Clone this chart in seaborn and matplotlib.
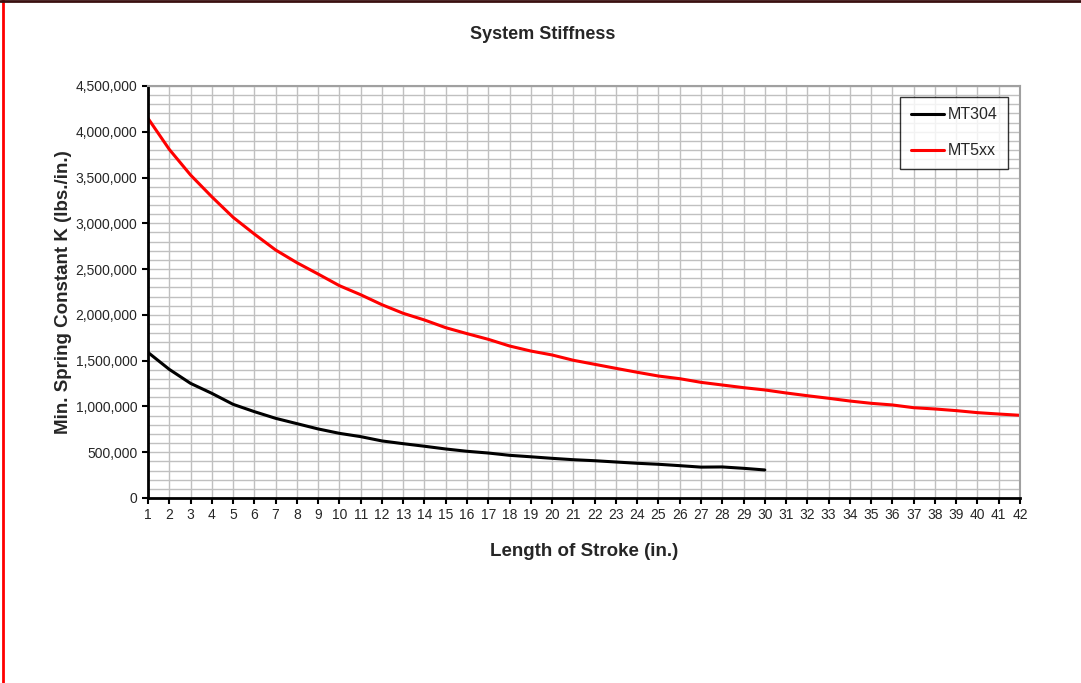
import numpy as np
import pandas as pd
import matplotlib.pyplot as plt
import seaborn as sns
from matplotlib.lines import Line2D
from matplotlib.ticker import FuncFormatter, MultipleLocator

# stroke length (in.)
stroke_mt304 = list(range(1, 31))
stroke_mt5xx = list(range(1, 43))

# min. spring constant K (lbs./in.)
k_mt304 = [1590000, 1405000, 1252000, 1143000, 1023000, 943000, 870000, 812000,
           754000, 706000, 670000, 623000, 593000, 565000, 535000, 510000,
           491000, 466000, 450000, 433000, 418000, 407000, 393000, 379000,
           368000, 353000, 337000, 339000, 324000, 306000]
k_mt5xx = [4147000, 3808000, 3528000, 3290000, 3066000, 2883000, 2709000, 2570000,
           2446000, 2319000, 2220000, 2111000, 2017000, 1944000, 1860000, 1795000,
           1733000, 1660000, 1605000, 1562000, 1504000, 1460000, 1416000, 1373000,
           1332000, 1303000, 1263000, 1234000, 1205000, 1180000, 1147000, 1117000,
           1089000, 1059000, 1034000, 1016000, 986000, 972000, 954000, 932000,
           917000, 903000]

df = pd.concat([
    pd.DataFrame({'stroke': stroke_mt304, 'k': k_mt304, 'model': 'MT304'}),
    pd.DataFrame({'stroke': stroke_mt5xx, 'k': k_mt5xx, 'model': 'MT5xx'}),
])

sns.set_style('white')
plt.rcParams['font.family'] = ['Liberation Sans', 'DejaVu Sans']

fig = plt.figure(figsize=(10.81, 6.83), dpi=100)
ax = fig.add_axes([0.1369, 0.2709, 0.8067, 0.6032])

sns.lineplot(data=df, x='stroke', y='k', hue='model',
             palette={'MT304': 'black', 'MT5xx': 'red'},
             linewidth=2.2, ax=ax)

ax.set_xlim(1, 42)
ax.set_ylim(0, 4500000)
ax.xaxis.set_major_locator(MultipleLocator(1))
ax.yaxis.set_major_locator(MultipleLocator(500000))
ax.yaxis.set_minor_locator(MultipleLocator(100000))
ax.yaxis.set_major_formatter(FuncFormatter(lambda v, p: f'{int(v):,}'))

ax.grid(True, which='major', axis='x', color='#c0c0c0', linewidth=1.0)
ax.grid(True, which='both', axis='y', color='#c0c0c0', linewidth=1.0)
ax.set_axisbelow(True)

ax.tick_params(axis='both', which='major', direction='out', length=4, width=1.5,
               labelsize=10, color='black', left=True, bottom=True)
ax.tick_params(axis='y', which='minor', left=False)
for s in ['left', 'bottom']:
    ax.spines[s].set_color('black')
    ax.spines[s].set_linewidth(2)
for s in ['top', 'right']:
    ax.spines[s].set_color('#a0a0a0')
    ax.spines[s].set_linewidth(1.5)

ax.set_xlabel('Length of Stroke (in.)', fontsize=13.5, fontweight='bold', labelpad=15)
ax.set_ylabel('Min. Spring Constant K (lbs./in.)', fontsize=13.5, fontweight='bold', labelpad=3)
fig.text(0.502, 0.949, 'System Stiffness', ha='center', va='center',
         fontsize=13, fontweight='bold')

leg = ax.legend(loc='upper right', bbox_to_anchor=(0.986, 0.973), borderaxespad=0,
                fontsize=11.5, frameon=True, fancybox=False, edgecolor='black',
                labelspacing=1.3, handlelength=2.06, handletextpad=0.25, borderpad=0.65)
leg.get_frame().set_linewidth(1.0)
leg.set_title(None)

# frame remnants along the left and top edges
fig.add_artist(Line2D([0.003, 0.003], [0, 1], color='red', linewidth=2,
                      transform=fig.transFigure))
fig.add_artist(Line2D([0, 1], [0.998, 0.998], color='#3a1010', linewidth=2,
                      transform=fig.transFigure))

fig.savefig('out.png', dpi=100, facecolor='white')
